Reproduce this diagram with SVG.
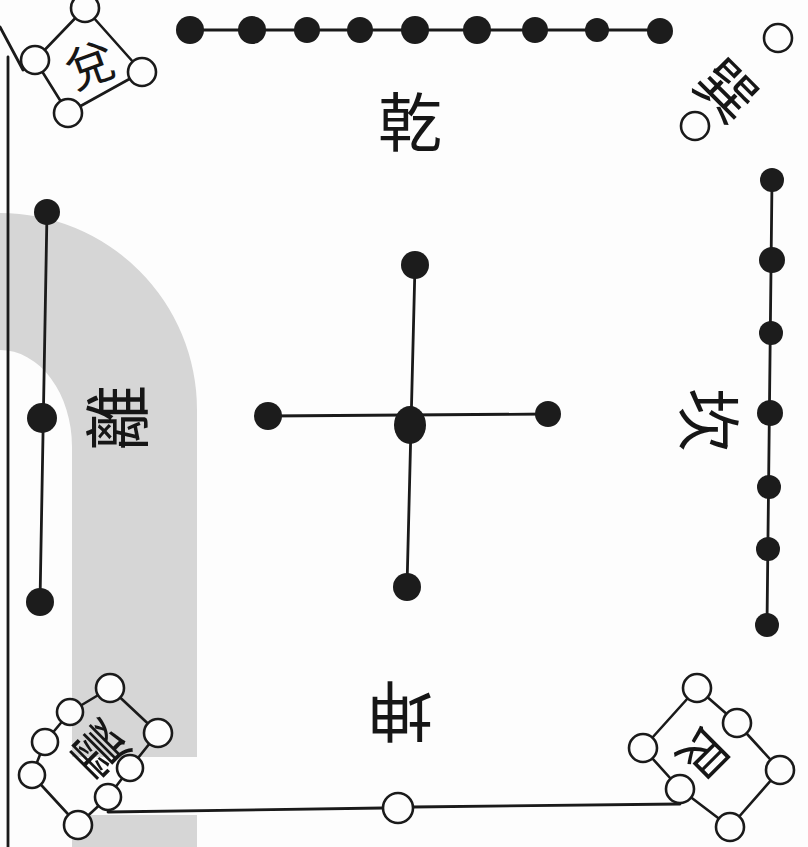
<svg xmlns="http://www.w3.org/2000/svg" width="808" height="847" viewBox="0 0 808 847">
<defs>
<style>
.ln{stroke:#1a1a1a;stroke-width:2.8;fill:none;stroke-linecap:round}
.bk{fill:#1c1c1c}
.wh{fill:#fdfdfd;stroke:#1a1a1a;stroke-width:2.6}
.box{fill:none;stroke:#1a1a1a;stroke-width:2.6;stroke-linejoin:round}
.lb{font-family:"Noto Sans CJK TC","Noto Sans CJK SC",sans-serif;fill:#161616;text-anchor:middle;dominant-baseline:central}
</style>
</defs>
<rect width="808" height="847" fill="#fdfdfd"/>
<g id="shade" fill="#d6d6d6">
<path d="M0,213 A197,197 0 0 1 197,410 L197,757 L72,757 L72,447 A72,97 0 0 0 0,350 Z"/>
<rect x="72" y="815" width="125" height="32"/>
</g>
<g id="border" class="ln">
<line x1="8" y1="57" x2="8" y2="847"/>
<line x1="0" y1="27" x2="23" y2="70"/>
</g>
<g id="connectors" class="ln">
<line x1="190" y1="30" x2="660" y2="30"/>
<line x1="772" y1="180" x2="767" y2="625"/>
<line x1="47" y1="212" x2="40" y2="602"/>
<line x1="415" y1="265" x2="407" y2="587"/>
<line x1="268" y1="416" x2="548" y2="414"/>
<polyline points="108,812 383,808"/>
<polyline points="413,807 680,804"/>
</g>
<g id="qian">
<g class="bk">
<circle cx="190" cy="30" r="14"/><circle cx="252" cy="30" r="14"/><circle cx="307" cy="30" r="13"/>
<circle cx="360" cy="30" r="13"/><circle cx="415" cy="30" r="14"/><circle cx="477" cy="30" r="14"/>
<circle cx="535" cy="30" r="13"/><circle cx="597" cy="30" r="12"/><circle cx="660" cy="31" r="13"/>
</g>
<text class="lb" x="410" y="118" font-size="64">乾</text>
</g>
<g id="kan">
<g class="bk">
<circle cx="772" cy="180" r="12"/><circle cx="772" cy="260" r="13"/><circle cx="771" cy="333" r="12"/>
<circle cx="770" cy="413" r="13"/><circle cx="769" cy="487" r="12"/><circle cx="768" cy="549" r="12"/>
<circle cx="767" cy="625" r="12"/>
</g>
<text class="lb" x="713" y="420" font-size="64" transform="rotate(90 713 420)">坎</text>
</g>
<g id="li">
<g class="bk">
<circle cx="47" cy="212" r="13"/><circle cx="42" cy="418" r="15"/><circle cx="40" cy="602" r="14"/>
</g>
<text class="lb" x="113" y="418" font-size="66" transform="rotate(-90 113 418)">離</text>
</g>
<g id="center" class="bk">
<circle cx="415" cy="265" r="14"/>
<ellipse cx="410" cy="425" rx="16" ry="19"/>
<circle cx="268" cy="416" r="14"/>
<circle cx="548" cy="414" r="13"/>
<circle cx="407" cy="587" r="14"/>
</g>
<g id="kun">
<circle class="wh" cx="398" cy="808" r="15"/>
<text class="lb" x="400" y="716" font-size="66" transform="rotate(180 400 716)">坤</text>
</g>
<g id="xun">
<circle class="wh" cx="778" cy="38" r="14"/>
<circle class="wh" cx="695" cy="126" r="14"/>
<text class="lb" x="729" y="88" font-size="58" transform="rotate(45 729 88)">巽</text>
</g>
<g id="dui">
<polygon class="box" points="85,8 142,72 68,113 35,60"/>
<circle class="wh" cx="85" cy="8" r="14"/>
<circle class="wh" cx="142" cy="72" r="14"/>
<circle class="wh" cx="68" cy="113" r="14"/>
<circle class="wh" cx="35" cy="60" r="14"/>
<text class="lb" x="89" y="62" font-size="48" transform="rotate(-20 89 62)">兌</text>
</g>
<g id="gen">
<polygon class="box" points="697,688 737,723 780,770 730,827 680,789 643,748"/>
<circle class="wh" cx="697" cy="688" r="14"/>
<circle class="wh" cx="737" cy="723" r="14"/>
<circle class="wh" cx="780" cy="770" r="14"/>
<circle class="wh" cx="730" cy="827" r="14"/>
<circle class="wh" cx="680" cy="789" r="14"/>
<circle class="wh" cx="643" cy="748" r="14"/>
<text class="lb" x="707" y="756" font-size="50" transform="rotate(135 707 756)">艮</text>
</g>
<g id="zhen">
<polygon class="box" points="110,688 158,733 130,768 108,797 78,825 32,775 45,742 70,712"/>
<circle class="wh" cx="110" cy="688" r="14"/>
<circle class="wh" cx="158" cy="733" r="14"/>
<circle class="wh" cx="130" cy="768" r="13"/>
<circle class="wh" cx="108" cy="797" r="13"/>
<circle class="wh" cx="78" cy="825" r="14"/>
<circle class="wh" cx="32" cy="775" r="13"/>
<circle class="wh" cx="45" cy="742" r="13"/>
<circle class="wh" cx="70" cy="712" r="13"/>
<text class="lb" x="97" y="752" font-size="54" transform="rotate(-135 97 752)">震</text>
</g>
</svg>
